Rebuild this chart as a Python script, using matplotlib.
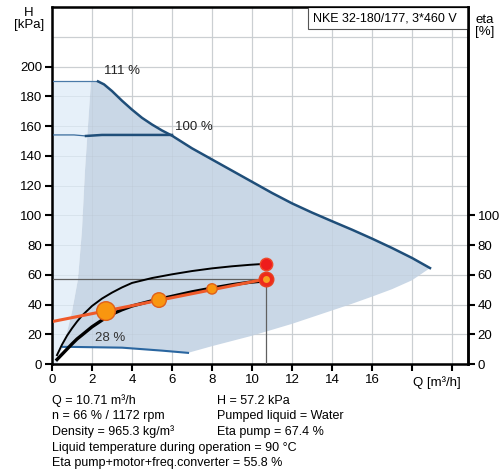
import matplotlib.pyplot as plt
from matplotlib.patches import Rectangle
import numpy as np

plt.rcParams['font.family'] = ['Liberation Sans', 'DejaVu Sans']

# max speed curve (111 %)
q_max = [0.0, 2.3, 2.6, 3.0, 3.5, 4.0, 4.5, 5.0, 5.5, 6.0, 7.0, 8.0, 9.0, 10.0,
         11.0, 12.0, 13.0, 14.0, 15.0, 16.0, 17.0, 18.0, 18.9]
h_max = [190, 190, 188, 183.5, 177, 171, 165.5, 161, 157, 153.5, 145, 137.5,
         130, 122.5, 115, 108, 101.8, 96, 90.3, 84.3, 78, 71.3, 64.5]
# 100 % curve (flat part)
q_100 = [1.7, 2.5, 6.0]
h_100 = [153.3, 154, 154]
# min speed curve (28 %)
q_min = [0.55, 1.0, 2.0, 3.5, 4.5, 5.5, 6.8]
h_min = [11.5, 11.5, 11.3, 11.0, 10.0, 9.0, 7.5]
# lower limit of the working area
q_low = [6.8, 8.0, 9.0, 10.0, 11.0, 12.0, 13.0, 14.0, 15.0, 16.0, 17.0, 18.0, 18.9]
h_low = [7.5, 12, 15.5, 19, 23, 27, 31.5, 36, 40.5, 45.3, 50.3, 56.3, 64.5]
# left limit of the working area
q_left = [0.3, 0.65, 1.0, 1.3, 1.5, 1.65, 1.8, 1.95]
h_left = [3, 16, 35, 57, 90, 130, 160, 190]

# eta pump
q_eta = [0.25, 0.5, 0.75, 1.0, 1.25, 1.5, 2.0, 2.5, 3.0, 3.5, 4.0, 5.0, 6.0,
         7.0, 8.0, 9.0, 9.9, 10.71]
eta_pump = [6, 13, 19, 24, 28.5, 32.5, 39, 44, 48, 51.5, 54.5, 57.8, 60.3,
            62.5, 64.3, 65.7, 66.7, 67.4]
# eta pump+motor+freq.converter
eta_tot = [3, 6.5, 10, 13.5, 16.8, 19.5, 25, 29.5, 33.5, 36.5, 39, 42.5, 45.5,
           48.5, 51, 53.3, 55, 56]
# control curve
q_ctrl = [0.0, 10.71]
h_ctrl = [28.5, 57.2]
q_pts = [2.7, 5.35, 8.0]
h_pts = [35.6, 43.0, 50.5]
pt_sizes = [180, 110, 55]

q_duty = 10.71
h_duty = 57.2
eta_duty = 67.4

fig = plt.figure(figsize=(4.99, 4.73), dpi=100)
ax = fig.add_axes([0.1042, 0.2304, 0.8337, 0.7548])

# light area (left part)
light_q = [0, 0, 2.3] + q_left[::-1] + [0.3]
light_h = [0, 190, 190] + h_left[::-1] + [0]
ax.fill(light_q, light_h, color='#e6f0f9', zorder=1, lw=0)

# dark working area
poly_q = q_left + q_max[1:] + q_low[::-1] + q_min[::-1]
poly_h = h_left + h_max[1:] + h_low[::-1] + h_min[::-1]
ax.fill(poly_q, poly_h, color='#c9d7e6', zorder=1, lw=0)

for x in np.arange(2, 21, 2):
    ax.axvline(x, color='#d4d4d4', lw=0.9, zorder=0.5)
for y in np.arange(20, 241, 20):
    ax.axhline(y, color='#d4d4d4', lw=0.9, zorder=0.5)
for x in np.arange(2, 21, 2):
    ax.axvline(x, color='#b8c4d0', lw=0.6, zorder=1.5, alpha=0.35)
for y in np.arange(20, 241, 20):
    ax.axhline(y, color='#b8c4d0', lw=0.6, zorder=1.5, alpha=0.35)

ax.plot(q_max[:2], h_max[:2], color='#4a7aa8', lw=0.9, zorder=3)
ax.plot(q_max[1:], h_max[1:], color='#1f4e79', lw=1.8, zorder=3)
ax.plot([0, 1.1, 1.7], [154, 154, 153.3], color='#3a6c9c', lw=0.9, zorder=3)
ax.plot(q_100, h_100, color='#1f4e79', lw=1.8, zorder=3)
ax.plot(q_min, h_min, color='#2a66a0', lw=1.5, zorder=3)

# duty point lines
ax.plot([0, q_duty], [h_duty, h_duty], color='#606060', lw=0.9, zorder=3)
ax.plot([q_duty, q_duty], [0, h_duty], color='#606060', lw=0.9, zorder=3)

ax.plot(q_eta, eta_pump, color='black', lw=1.4, zorder=4)
ax.plot(q_eta, eta_tot, color='black', lw=2.4, zorder=4)
ax.plot(q_ctrl, h_ctrl, color='#ef5a2a', lw=2.2, zorder=5)
ax.scatter(q_pts, h_pts, s=pt_sizes, color='#f9960f', edgecolors='#e0601a',
           linewidths=1.0, zorder=6)
ax.scatter([q_duty], [eta_duty], s=80, color='#ee1c1c', edgecolors='#ee4a2a',
           zorder=7)
ax.scatter([q_duty], [h_duty], s=110, color='#ee2a1c', edgecolors='#e84020',
           zorder=7)
ax.scatter([q_duty], [h_duty], s=25, color='#f9a020', lw=0, zorder=8)

ax.text(2.6, 195, '111 %', fontsize=9.5, color='#222222', zorder=9)
ax.text(6.15, 157, '100 %', fontsize=9.5, color='#222222', zorder=9)
ax.text(2.15, 15.5, '28 %', fontsize=9.5, color='#333333', zorder=9)

ax.set_xlim(0, 20.8)
ax.set_ylim(0, 240)
ax.set_xticks(np.arange(0, 21, 2))
ax.set_xticklabels([str(v) for v in range(0, 17, 2)] + ['', ''])
ax.set_yticks(np.arange(0, 201, 20))
ax.tick_params(labelsize=9.5, length=5, width=1.5, direction='out', pad=2)
for s in ['left', 'right', 'bottom', 'top']:
    ax.spines[s].set_linewidth(1.8)

ax2 = ax.twinx()
ax2.set_ylim(0, 240)
ax2.set_yticks(np.arange(0, 101, 20))
ax2.tick_params(labelsize=9.5, length=5, width=1.5, direction='out', pad=2)
ax2.spines['right'].set_linewidth(1.8)

ax.text(19.25, -8, 'Q [m\u00b3/h]', fontsize=9.5, ha='center', va='top')
fig.text(0.058, 0.985, 'H\n[kPa]', fontsize=9.5, ha='center', va='top',
         linespacing=0.95)
fig.text(0.972, 0.97, 'eta\n[%]', fontsize=9.5, ha='center', va='top',
         linespacing=0.95)

# title box
ax.add_patch(Rectangle((0.615, 0.938), 0.385, 0.062, transform=ax.transAxes,
                       fc='white', ec='#555555', lw=0.8, zorder=10))
ax.text(0.627, 0.969, 'NKE 32-180/177, 3*460 V', transform=ax.transAxes,
        fontsize=9, ha='left', va='center', zorder=11)

info_left = ['Q = 10.71 m\u00b3/h', 'n = 66 % / 1172 rpm', 'Density = 965.3 kg/m\u00b3',
             'Liquid temperature during operation = 90 \u00b0C',
             'Eta pump+motor+freq.converter = 55.8 %']
info_right = ['H = 57.2 kPa', 'Pumped liquid = Water', 'Eta pump = 67.4 %']
line_y = [401, 416, 432, 448, 463]
for i, t in enumerate(info_left):
    fig.text(52 / 499, 1 - line_y[i] / 473, t, fontsize=9, va='center')
for i, t in enumerate(info_right):
    fig.text(217 / 499, 1 - line_y[i] / 473, t, fontsize=9, va='center')

fig.savefig('out.png', dpi=100)
